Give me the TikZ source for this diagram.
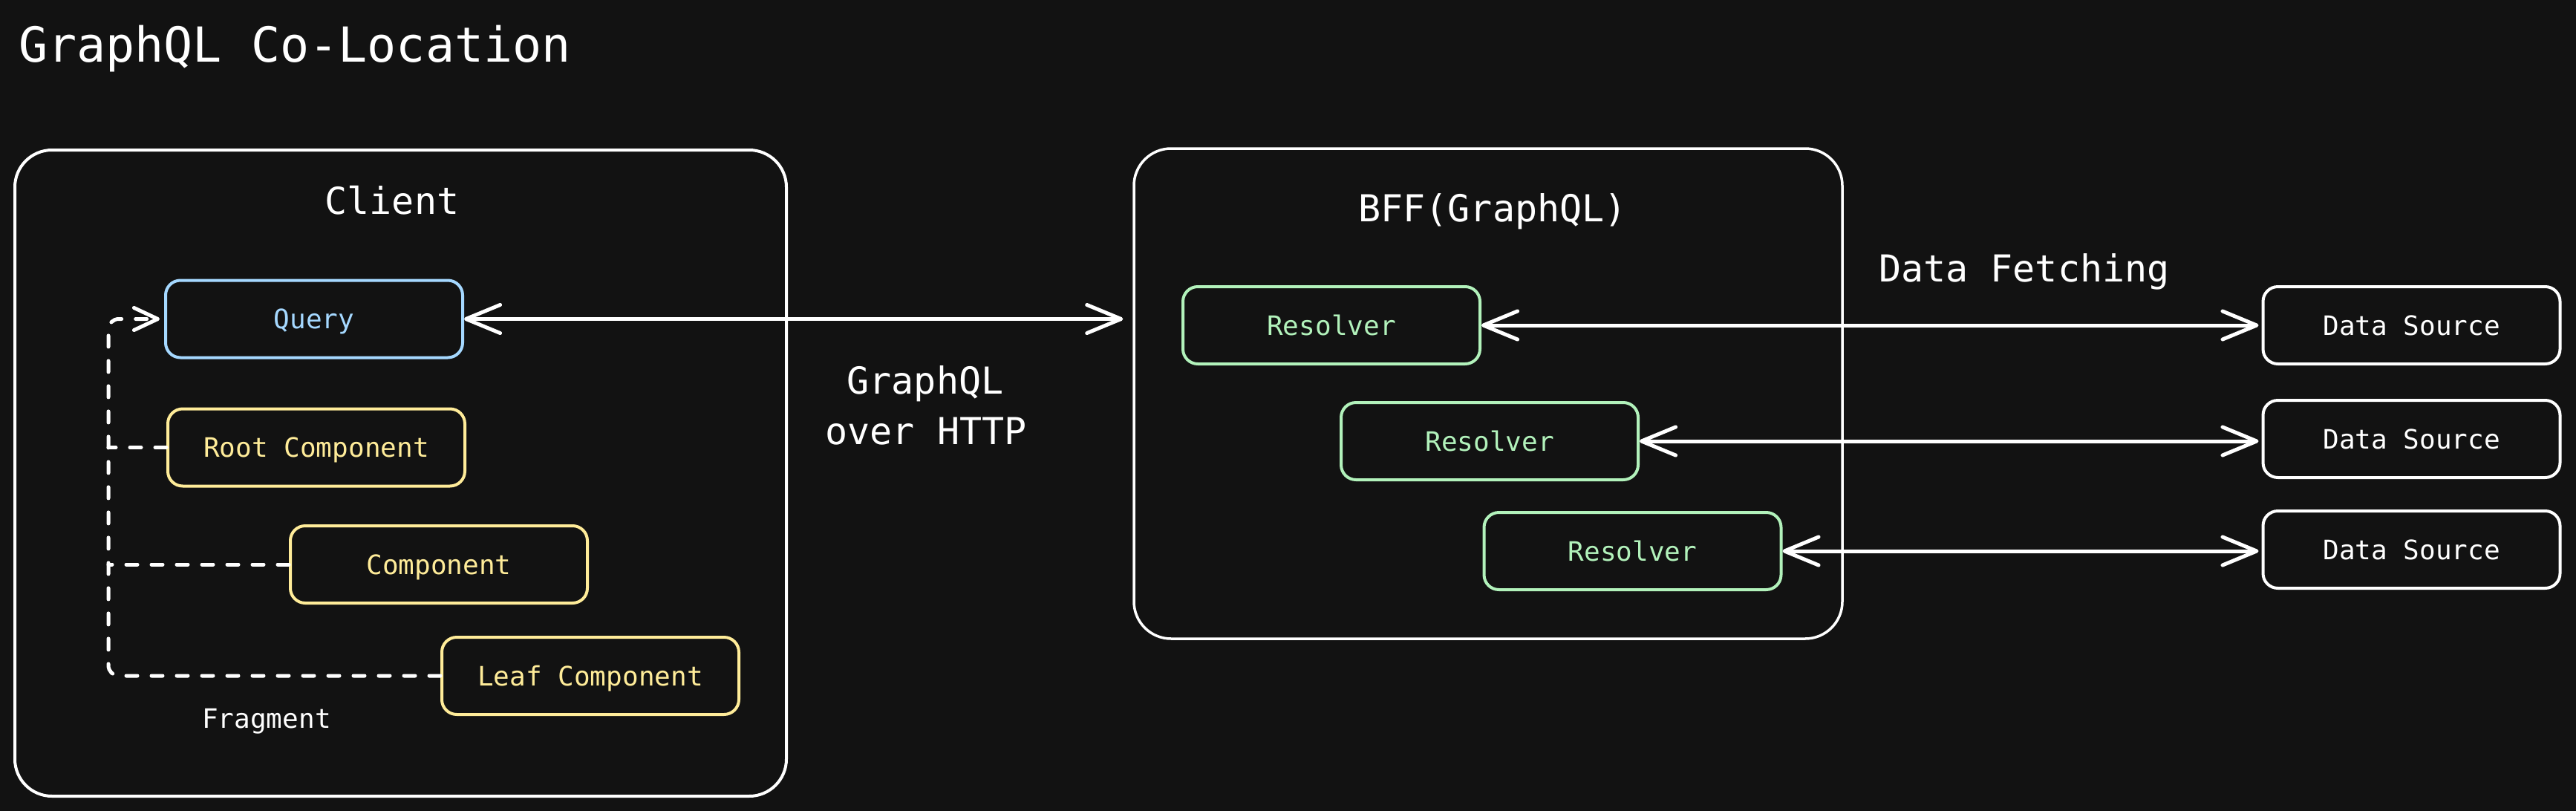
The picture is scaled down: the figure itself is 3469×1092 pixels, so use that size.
\documentclass[tikz,border=0pt]{standalone}
\usepackage{fontspec}
\setmainfont{DejaVu Sans Mono}
\usetikzlibrary{arrows.meta}
\definecolor{bg}{HTML}{121212}
\definecolor{qblue}{HTML}{A5D8FF}
\definecolor{cyel}{HTML}{FFEC99}
\definecolor{rgreen}{HTML}{B2F2BB}
\begin{document}
\begin{tikzpicture}[x=1pt,y=-1pt,
  container/.style={draw=white, line width=4pt, rounded corners=50pt, inner sep=0pt},
  box/.style={draw=#1, text=#1, line width=4pt, rounded corners=20pt, minimum width=400pt, minimum height=104pt, inner sep=0pt, font=\fontsize{36}{43}\selectfont, text height=26pt, text depth=0pt},
  lbl/.style={text=white, inner sep=0pt, font=\fontsize{50}{60}\selectfont},
  small/.style={text=white, inner sep=0pt, font=\fontsize{36}{43}\selectfont},
  arr/.style={draw=white, line width=5pt, line cap=round, >={Straight Barb[length=46pt,width=38pt,round]}, <->},
  fragline/.style={draw=white, line width=5pt, line cap=round, dash pattern=on 15pt off 19pt, rounded corners=14pt},
  fragarrow/.style={fragline, -{Straight Barb[length=32pt,width=30pt,round]}}
]
\useasboundingbox (0,0) rectangle (3469,1092);
\fill[bg] (0,0) rectangle (3469,1092);

% title
\node[anchor=base west, text=white, inner sep=0pt, font=\fontsize{65}{78}\selectfont] (title) at (25,83) {GraphQL Co-Location};

% containers
\node[container, minimum width=1039pt, minimum height=870pt] (client) at (539.5,637) {};
\node[lbl, anchor=base] (clientlbl) at (528,288) {Client};
\node[container, line width=3.5pt, minimum width=954pt, minimum height=660pt] (bff) at (2004,530) {};
\node[lbl, anchor=base] (bfflbl) at (2010,298) {BFF(GraphQL)};

% client boxes
\node[box=qblue] (query) at (423,429.5) {Query};
\node[box=cyel] (root) at (426,602.5) {Root Component};
\node[box=cyel] (comp) at (591,760) {Component};
\node[box=cyel] (leaf) at (795,910) {Leaf Component};
\node[small, anchor=base] (frag) at (359,980) {Fragment};

% resolvers
\node[box=rgreen] (r1) at (1793,438) {Resolver};
\node[box=rgreen] (r2) at (2006,594) {Resolver};
\node[box=rgreen] (r3) at (2198.5,742) {Resolver};

% data sources
\node[box=white] (ds1) at (3247.5,438) {Data Source};
\node[box=white] (ds2) at (3247.5,591) {Data Source};
\node[box=white] (ds3) at (3247.5,740) {Data Source};

% labels
\node[lbl, anchor=base west] (fetch) at (2530,379) {Data Fetching};
\node[lbl, anchor=base] (gql1) at (1246,530) {GraphQL};
\node[lbl, anchor=base] (gql2) at (1247,598) {over HTTP};

% fragment connectors
\coordinate (fb) at (146,910);
\coordinate (ft) at (146,429.5);
\draw[fragarrow, shorten >=6pt] (leaf.west) -- (fb) -- (ft) -- (query.west);
\draw[fragline] (root.west) -- (root.west -| fb);
\draw[fragline] (comp.west) -- (comp.west -| fb);

% main arrow
\draw[arr, shorten >=13pt] (query.east) -- (query.east -| bff.west);

% data fetching arrows
\draw[arr, shorten >=4pt] (r1.east) -- (r1.east -| ds1.west);
\draw[arr, shorten >=4pt] (r2.east) -- (r2.east -| ds2.west);
\draw[arr, shorten >=4pt] (r3.east) -- (r3.east -| ds3.west);
\end{tikzpicture}
\end{document}
